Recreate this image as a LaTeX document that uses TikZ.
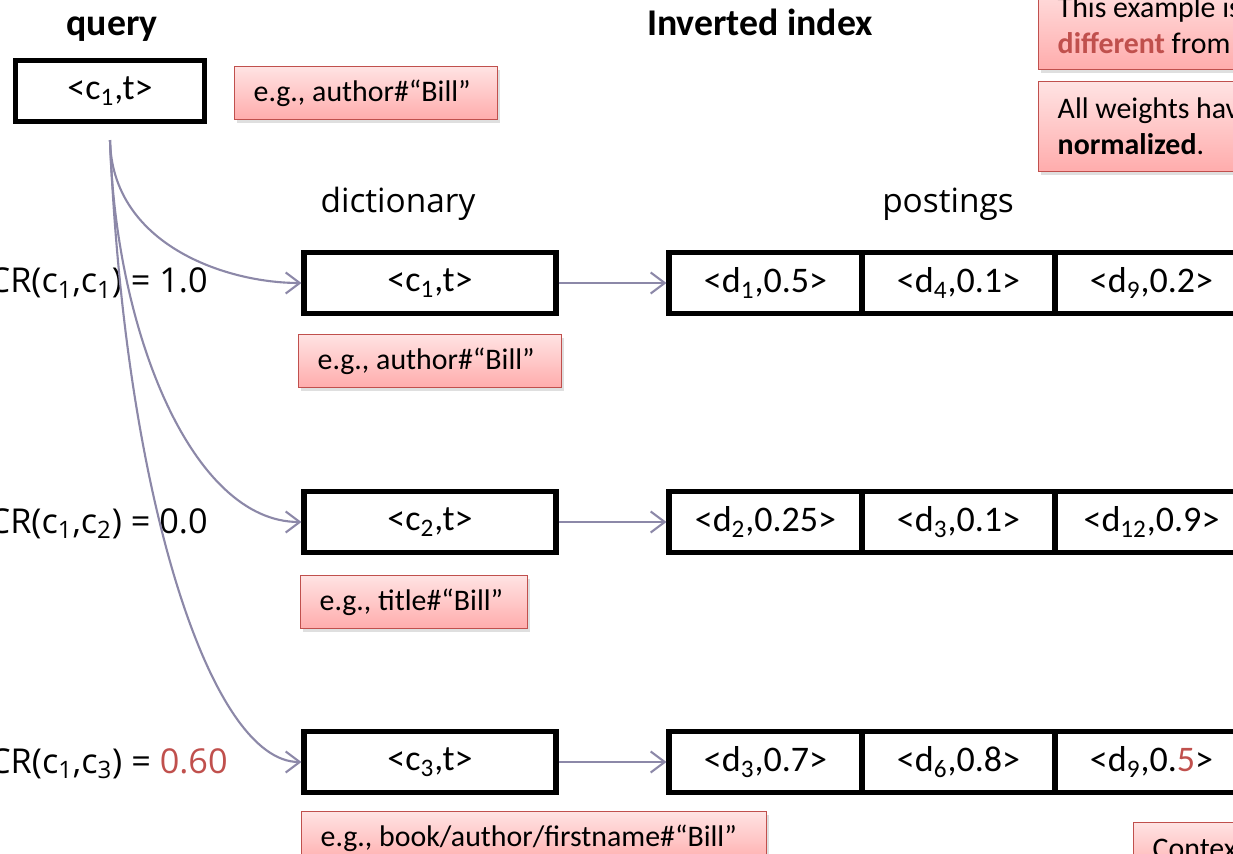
\documentclass[tikz,border=0pt]{standalone}
\usepackage{fontspec}
\setmainfont{Carlito}
\newfontfamily\labelfont{Open Sans}
\usetikzlibrary{arrows.meta,shadows}

\definecolor{notered}{RGB}{192,80,77}
\definecolor{notetop}{RGB}{255,227,227}
\definecolor{notebot}{RGB}{255,172,172}
\definecolor{linkgray}{RGB}{140,136,168}

\tikzset{
    cellbox/.style={draw, line width=2.9pt, minimum height=1.22cm, inner sep=0pt,
        font=\fontsize{20.5}{24}\selectfont},
    note/.style={draw=notered, line width=0.8pt, top color=notetop, bottom color=notebot,
        drop shadow={opacity=0.25, shadow xshift=1.5pt, shadow yshift=-2pt},
        anchor=north west, inner xsep=0.38cm, minimum height=1.06cm, text width=#1,
        align=flush left, font=\fontsize{17}{20.5}\selectfont},
    weightlink/.style={draw=linkgray, line width=1.2pt, -{Straight Barb[length=8pt,width=12pt]}},
    title/.style={font=\bfseries\fontsize{21.5}{25}\selectfont, anchor=base},
    caption/.style={font=\labelfont\fontsize{19}{23}\selectfont, anchor=base},
    crlabel/.style={font=\labelfont\fontsize{19.5}{24}\selectfont, anchor=base east, inner sep=0pt}
}

\begin{document}
\frenchspacing
\begin{tikzpicture}[x=0.02cm,y=-0.02cm]
    \useasboundingbox (0,0) rectangle (1233,854);
    \clip (0,0) rectangle (1233,854);

    % query side
    \node[title] (qtitle) at (112,36) {query};
    \node[cellbox, minimum width=3.78cm] (q) at (110,91) {<c\textsubscript{1},t>};
    \node[note=4.5cm] (qnote) at (234,66) {e.g., author\#“Bill”};
    \coordinate (fork) at ([yshift=-0.32cm]q.south);

    % index side
    \node[title] (ititle) at (760,36) {Inverted index};
    \node[note=6cm, minimum height=1.78cm] (remark) at (1038,-20) {This example is\\\textcolor{notered}{\textbf{different}} from};
    \node[note=6cm, minimum height=1.8cm] (weights) at (1038,81) {All weights have\\\textbf{normalized}.};
    \node[note=6cm] (context) at (1133,822) {Context};

    \node[caption] (dict) at (398,213) {dictionary};
    \node[caption] (post) at (948,213) {postings};

    \foreach \i/\y in {1/283,2/522,3/762}{
        \node[cellbox, minimum width=5.04cm] (d\i) at (430,\y) {<c\textsubscript{\i},t>};
    }

    \node[cellbox, minimum width=3.86cm] (p1-1) at (765.5,283) {<d\textsubscript{1},0.5>};
    \node[cellbox, minimum width=3.86cm] (p1-2) at (958.5,283) {<d\textsubscript{4},0.1>};
    \node[cellbox, minimum width=3.86cm] (p1-3) at (1151.5,283) {<d\textsubscript{9},0.2>};

    \node[cellbox, minimum width=3.86cm] (p2-1) at (765.5,522) {<d\textsubscript{2},0.25>};
    \node[cellbox, minimum width=3.86cm] (p2-2) at (958.5,522) {<d\textsubscript{3},0.1>};
    \node[cellbox, minimum width=3.86cm] (p2-3) at (1151.5,522) {<d\textsubscript{12},0.9>};

    \node[cellbox, minimum width=3.86cm] (p3-1) at (765.5,762) {<d\textsubscript{3},0.7>};
    \node[cellbox, minimum width=3.86cm] (p3-2) at (958.5,762) {<d\textsubscript{6},0.8>};
    \node[cellbox, minimum width=3.86cm] (p3-3) at (1151.5,762) {<d\textsubscript{9},0.\textcolor{notered}{5}>};

    \node[note=4.5cm] (n1) at (298,334) {e.g., author\#“Bill”};
    \node[note=3.78cm] (n2) at (300,575) {e.g., title\#“Bill”};
    \node[note=8.54cm] (n3) at (301,811) {e.g., book/author/firstname\#“Bill”};

    \foreach \i in {1,2,3}{
        \draw[weightlink] (d\i.east) -- (p\i-1.west);
    }

    % context relevance
    \node[crlabel] (cr1) at (208,293) {CR(c\textsubscript{1},c\textsubscript{1}) = 1.0};
    \node[crlabel] (cr2) at (208,533) {CR(c\textsubscript{1},c\textsubscript{2}) = 0.0};
    \node[crlabel] (cr3) at (228,773) {CR(c\textsubscript{1},c\textsubscript{3}) = \textcolor{notered}{0.60}};

    \draw[weightlink] (fork) .. controls +(2,105) and +(-75,0) .. (d1.west);
    \draw[weightlink] (fork) .. controls +(5,190) and +(-110,0) .. (d2.west);
    \draw[weightlink] (fork) .. controls +(15,360) and +(-90,0) .. (d3.west);

\end{tikzpicture}
\end{document}
